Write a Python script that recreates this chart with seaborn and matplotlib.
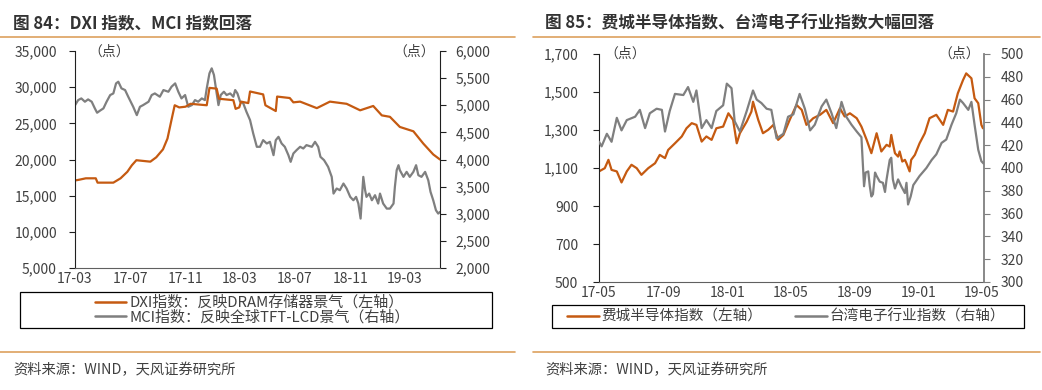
import pandas as pd
import seaborn as sns
import matplotlib.pyplot as plt
import matplotlib.dates as mdates
from matplotlib.ticker import FuncFormatter
from matplotlib.patches import Rectangle
from matplotlib.lines import Line2D

# ---- figure 84: DXI / MCI ----
dxi_dates = ['2017-03-01', '2017-03-10', '2017-03-25', '2017-04-16', '2017-04-20', '2017-05-25',
             '2017-06-10', '2017-06-25', '2017-07-05', '2017-07-15', '2017-08-15', '2017-08-28',
             '2017-09-12', '2017-09-22', '2017-10-02', '2017-10-08', '2017-10-18', '2017-11-01',
             '2017-11-12', '2017-12-18', '2017-12-24', '2018-01-09', '2018-01-14', '2018-02-15',
             '2018-02-20', '2018-02-28', '2018-03-04', '2018-03-20', '2018-03-24', '2018-04-22',
             '2018-04-27', '2018-05-20', '2018-05-23', '2018-06-20', '2018-06-28', '2018-07-13',
             '2018-08-19', '2018-09-17', '2018-10-24', '2018-11-23', '2018-12-22', '2019-01-10',
             '2019-01-28', '2019-02-19', '2019-03-21', '2019-04-12', '2019-05-04', '2019-05-19']
dxi_vals = [17100, 17200, 17400, 17400, 16800, 16800,
            17400, 18300, 19200, 19900, 19700, 20300,
            21400, 22900, 25800, 27500, 27200, 27300,
            27700, 27500, 29900, 29800, 28400, 28200,
            27000, 27200, 28000, 27800, 29400, 29000,
            27500, 26700, 28700, 28500, 27900, 28000,
            27100, 28000, 27700, 26800, 27400, 26100,
            25900, 24500, 23900, 22200, 20700, 20000]

mci_dates = ['2017-03-01', '2017-03-08', '2017-03-15', '2017-03-23', '2017-03-30', '2017-04-07',
             '2017-04-14', '2017-04-19', '2017-04-25', '2017-05-03', '2017-05-10', '2017-05-18',
             '2017-05-25', '2017-05-31', '2017-06-05', '2017-06-12', '2017-06-20', '2017-06-27',
             '2017-07-08', '2017-07-16', '2017-07-23', '2017-07-30', '2017-08-11', '2017-08-18',
             '2017-08-25', '2017-09-05', '2017-09-13', '2017-09-24', '2017-10-01', '2017-10-09',
             '2017-10-16', '2017-10-23', '2017-10-31', '2017-11-07', '2017-11-15', '2017-11-22',
             '2017-11-29', '2017-12-07', '2017-12-14', '2017-12-18', '2017-12-24', '2017-12-29',
             '2018-01-03', '2018-01-09', '2018-01-13', '2018-01-18', '2018-01-25', '2018-01-31',
             '2018-02-08', '2018-02-15', '2018-02-19', '2018-02-24', '2018-03-02', '2018-03-09',
             '2018-03-16', '2018-03-24', '2018-03-31', '2018-04-08', '2018-04-15', '2018-04-22',
             '2018-04-30', '2018-05-07', '2018-05-15', '2018-05-20', '2018-05-26', '2018-06-02',
             '2018-06-09', '2018-06-17', '2018-06-22', '2018-06-28', '2018-07-05', '2018-07-13',
             '2018-07-20', '2018-07-27', '2018-08-08', '2018-08-15', '2018-08-22', '2018-08-27',
             '2018-09-04', '2018-09-13', '2018-09-21', '2018-09-25', '2018-10-02', '2018-10-09',
             '2018-10-17', '2018-10-24', '2018-11-01', '2018-11-08', '2018-11-14', '2018-11-19',
             '2018-11-24', '2018-11-30', '2018-12-04', '2018-12-07', '2018-12-13', '2018-12-19',
             '2018-12-26', '2019-01-02', '2019-01-06', '2019-01-13', '2019-01-21', '2019-01-28',
             '2019-02-05', '2019-02-08', '2019-02-12', '2019-02-16', '2019-02-19', '2019-02-27',
             '2019-03-06', '2019-03-13', '2019-03-21', '2019-03-27', '2019-04-01', '2019-04-08',
             '2019-04-16', '2019-04-23', '2019-04-28', '2019-05-04', '2019-05-10', '2019-05-15',
             '2019-05-19']
mci_vals = [5000, 5095, 5126, 5065, 5108, 5065,
            4942, 4862, 4898, 4942, 5065, 5188,
            5218, 5403, 5434, 5311, 5280, 5157,
            4972, 4818, 4972, 5003, 5065, 5188,
            5218, 5157, 5280, 5249, 5342, 5403,
            5249, 5126, 5188, 4972, 5003, 5095,
            5065, 5126, 5095, 5311, 5588, 5680,
            5557, 5218, 5003, 5188, 5249, 5188,
            5218, 5157, 5280, 5218, 5065, 5034,
            4880, 4726, 4480, 4234, 4234, 4357,
            4295, 4326, 4080, 4357, 4418, 4295,
            4234, 4080, 3957, 4111, 4172, 4234,
            4203, 4265, 4234, 4326, 4234, 4049,
            3988, 3865, 3680, 3372, 3465, 3434,
            3557, 3465, 3311, 3249, 3311, 3188,
            2911, 3680, 3434, 3311, 3372, 3249,
            3342, 3188, 3372, 3188, 3095, 3095,
            3188, 3495, 3803, 3895, 3803, 3680,
            3772, 3680, 3772, 3895, 3711, 3680,
            3772, 3618, 3403, 3249, 3065, 3003,
            3034]

# ---- figure 85: SOX / Taiwan electronics ----
sox_dates = ['2017-05-01', '2017-05-12', '2017-05-19', '2017-05-25', '2017-06-04', '2017-06-13',
             '2017-06-23', '2017-07-02', '2017-07-12', '2017-07-21', '2017-08-03', '2017-08-16',
             '2017-08-25', '2017-09-04', '2017-09-10', '2017-09-23', '2017-10-06', '2017-10-15',
             '2017-10-25', '2017-11-03', '2017-11-13', '2017-11-22', '2017-12-02', '2017-12-11',
             '2017-12-24', '2018-01-03', '2018-01-12', '2018-01-19', '2018-01-25', '2018-02-07',
             '2018-02-16', '2018-02-19', '2018-03-01', '2018-03-10', '2018-03-20', '2018-03-30',
             '2018-04-08', '2018-04-18', '2018-04-30', '2018-05-13', '2018-05-23', '2018-06-01',
             '2018-06-14', '2018-06-27', '2018-07-09', '2018-07-22', '2018-08-04', '2018-08-13',
             '2018-08-23', '2018-09-05', '2018-09-14', '2018-09-24', '2018-10-03', '2018-10-13',
             '2018-10-22', '2018-11-01', '2018-11-07', '2018-11-10', '2018-11-13', '2018-11-17',
             '2018-11-23', '2018-11-26', '2018-12-01', '2018-12-06', '2018-12-09', '2018-12-15',
             '2018-12-18', '2018-12-25', '2019-01-03', '2019-01-13', '2019-01-22', '2019-02-04',
             '2019-02-17', '2019-02-26', '2019-03-08', '2019-03-17', '2019-03-27', '2019-04-02',
             '2019-04-12', '2019-04-18', '2019-04-25', '2019-05-01', '2019-05-04']
sox_vals = [1082, 1099, 1143, 1090, 1082, 1024,
            1082, 1117, 1099, 1064, 1099, 1125,
            1169, 1152, 1195, 1230, 1266, 1309,
            1336, 1327, 1239, 1266, 1248, 1309,
            1318, 1388, 1353, 1230, 1283, 1344,
            1397, 1449, 1353, 1283, 1301, 1327,
            1248, 1274, 1353, 1432, 1406, 1327,
            1362, 1380, 1406, 1336, 1414, 1371,
            1388, 1362, 1318, 1248, 1178, 1283,
            1187, 1222, 1213, 1274, 1230, 1178,
            1160, 1187, 1134, 1143, 1125, 1082,
            1143, 1169, 1230, 1283, 1362, 1380,
            1327, 1406, 1397, 1493, 1563, 1598,
            1572, 1467, 1441, 1327, 1309]

tw_dates = ['2017-05-01', '2017-05-06', '2017-05-16', '2017-05-25', '2017-06-04', '2017-06-13',
            '2017-06-23', '2017-07-09', '2017-07-18', '2017-07-28', '2017-08-06', '2017-08-19',
            '2017-08-29', '2017-09-04', '2017-09-13', '2017-09-23', '2017-10-09', '2017-10-18',
            '2017-10-28', '2017-11-03', '2017-11-13', '2017-11-22', '2017-12-02', '2017-12-11',
            '2017-12-24', '2017-12-31', '2018-01-09', '2018-01-15', '2018-01-25', '2018-02-07',
            '2018-02-19', '2018-02-26', '2018-03-07', '2018-03-17', '2018-03-26', '2018-04-05',
            '2018-04-18', '2018-04-27', '2018-05-07', '2018-05-19', '2018-05-29', '2018-06-08',
            '2018-06-17', '2018-06-30', '2018-07-09', '2018-07-19', '2018-07-28', '2018-08-07',
            '2018-08-16', '2018-08-26', '2018-09-05', '2018-09-14', '2018-09-17', '2018-09-19',
            '2018-09-22', '2018-09-27', '2018-09-30', '2018-10-03', '2018-10-06', '2018-10-10',
            '2018-10-13', '2018-10-19', '2018-10-25', '2018-10-29', '2018-11-01', '2018-11-07',
            '2018-11-10', '2018-11-13', '2018-11-17', '2018-11-23', '2018-11-29', '2018-12-06',
            '2018-12-09', '2018-12-12', '2018-12-17', '2018-12-22', '2019-01-03', '2019-01-16',
            '2019-01-26', '2019-02-04', '2019-02-14', '2019-02-23', '2019-03-05', '2019-03-14',
            '2019-03-21', '2019-03-27', '2019-04-06', '2019-04-12', '2019-04-18', '2019-04-25',
            '2019-05-01', '2019-05-05']
tw_vals = [423, 419, 430, 423, 444, 433,
           442, 445, 451, 435, 448, 452,
           451, 432, 450, 465, 464, 471,
           458, 468, 435, 442, 435, 450,
           455, 474, 470, 441, 432, 450,
           468, 460, 457, 452, 451, 426,
           430, 445, 447, 465, 452, 433,
           438, 454, 460, 448, 435, 458,
           445, 438, 432, 427, 401, 384,
           396, 397, 384, 375, 377, 396,
           393, 388, 387, 379, 390, 407,
           409, 390, 382, 390, 384, 378,
           387, 368, 375, 385, 393, 400,
           407, 412, 422, 425, 438, 448,
           460, 457, 451, 458, 438, 416,
           406, 404]

ORANGE = '#C55A11'
GRAY = '#7F7F7F'
RULE = '#DDA15E'
TXT = '#404040'

sns.set_style('white')
plt.rcParams['font.family'] = ['Noto Sans CJK SC', 'DejaVu Sans']
plt.rcParams['axes.unicode_minus'] = False

W, H = 1042, 390
fig = plt.figure(figsize=(W / 100, H / 100), dpi=100)


def fx(px):
    return px / W


def fy(py):
    return 1 - py / H


comma = FuncFormatter(lambda v, p: f'{v:,.0f}')


def style_axes(ax, ax2, right_color, lpad, rpad):
    for a in (ax, ax2):
        a.spines['top'].set_visible(False)
        a.tick_params(labelsize=10, labelcolor=TXT, length=4, width=0.8)
        a.set_xlabel('')
        a.set_ylabel('')
        a.grid(False)
    ax.spines['right'].set_visible(False)
    ax.spines['left'].set_color('#202020')
    ax.spines['bottom'].set_color('#606060')
    ax2.spines['left'].set_visible(False)
    ax2.spines['bottom'].set_visible(False)
    ax2.spines['right'].set_color(right_color)
    ax2.spines['right'].set_linewidth(1.3 if right_color == GRAY else 0.8)
    ax.tick_params(axis='y', direction='out', color='#202020', pad=lpad)
    ax2.tick_params(axis='y', direction='out', color=right_color, pad=rpad)
    ax.tick_params(axis='x', direction='in', color='#606060', pad=3)
    ax.yaxis.set_major_formatter(comma)
    ax2.yaxis.set_major_formatter(comma)


# ---------- left panel ----------
df_dxi = pd.DataFrame({'date': pd.to_datetime(dxi_dates), 'v': dxi_vals})
df_mci = pd.DataFrame({'date': pd.to_datetime(mci_dates), 'v': mci_vals})

axL = fig.add_axes([fx(75), fy(268), fx(440 - 75), (268 - 51) / H])
axL2 = axL.twinx()
sns.lineplot(data=df_dxi, x='date', y='v', ax=axL, color=ORANGE, lw=1.6)
sns.lineplot(data=df_mci, x='date', y='v', ax=axL2, color=GRAY, lw=1.6)
axL.set_xlim(pd.Timestamp('2017-03-01'), pd.Timestamp('2019-05-19'))
axL.set_ylim(5000, 35000)
axL.set_yticks(range(5000, 35001, 5000))
axL2.set_ylim(2000, 6000)
axL2.set_yticks(range(2000, 6001, 500))
axL.xaxis.set_major_locator(mdates.MonthLocator(bymonth=[3, 7, 11]))
axL.xaxis.set_major_formatter(mdates.DateFormatter('%y-%m'))
style_axes(axL, axL2, '#202020', 9, 7)
axL.set_zorder(axL2.get_zorder() + 1)
axL.patch.set_visible(False)

# ---------- right panel ----------
df_sox = pd.DataFrame({'date': pd.to_datetime(sox_dates), 'v': sox_vals})
df_tw = pd.DataFrame({'date': pd.to_datetime(tw_dates), 'v': tw_vals})

axR = fig.add_axes([fx(599), fy(282), fx(984 - 599), (282 - 54) / H])
axR2 = axR.twinx()
sns.lineplot(data=df_sox, x='date', y='v', ax=axR, color=ORANGE, lw=1.6)
sns.lineplot(data=df_tw, x='date', y='v', ax=axR2, color=GRAY, lw=1.6)
axR.set_xlim(pd.Timestamp('2017-05-01'), pd.Timestamp('2019-05-06'))
axR.set_ylim(500, 1700)
axR.set_yticks(range(500, 1701, 200))
axR2.set_ylim(300, 500)
axR2.set_yticks(range(300, 501, 20))
axR.xaxis.set_major_locator(mdates.MonthLocator(bymonth=[1, 5, 9]))
axR.xaxis.set_major_formatter(mdates.DateFormatter('%y-%m'))
style_axes(axR, axR2, GRAY, 11, 8)
axR2.set_zorder(axR.get_zorder() + 1)

# unit labels
for x, y in [(88, 52), (393, 52), (604, 54), (938, 54)]:
    fig.text(fx(x), fy(y), '（点）', fontsize=10, color=TXT, va='center', ha='left')

# titles, rules, sources
fig.text(fx(13), fy(23), '图 84：DXI 指数、MCI 指数回落', fontsize=12, fontweight='bold',
         color='#333333', va='center')
fig.text(fx(545), fy(23), '图 85：费城半导体指数、台湾电子行业指数大幅回落', fontsize=12,
         fontweight='bold', color='#333333', va='center')
for x0, x1 in [(0, 515), (533, 1040)]:
    for yy in (37, 352):
        fig.add_artist(Line2D([fx(x0), fx(x1)], [fy(yy), fy(yy)], color=RULE, lw=1.2))
fig.text(fx(13), fy(370), '资料来源：WIND，天风证券研究所', fontsize=10.3, color=TXT, va='center')
fig.text(fx(545), fy(370), '资料来源：WIND，天风证券研究所', fontsize=10.3, color=TXT, va='center')

# legends with drawn boxes
hL = [Line2D([], [], color=ORANGE, lw=1.8), Line2D([], [], color=GRAY, lw=1.8)]
fig.legend(hL, ['DXI指数：反映DRAM存储器景气（左轴）', 'MCI指数：反映全球TFT-LCD景气（右轴）'],
           loc='center', bbox_to_anchor=(fx(252), fy(310)), frameon=False, fontsize=10.8,
           handlelength=2.1, handletextpad=0.2, labelspacing=0.0, labelcolor=TXT)
fig.add_artist(Rectangle((fx(20), fy(328)), fx(472), (328 - 292) / H, fill=False,
                         edgecolor='black', lw=0.9))
fig.legend(hL, ['费城半导体指数（左轴）', '台湾电子行业指数（右轴）'],
           loc='center', bbox_to_anchor=(fx(786), fy(316.5)), frameon=False, fontsize=10.5,
           ncol=2, handlelength=2.2, handletextpad=0.2, columnspacing=2.2, labelcolor=TXT)
fig.add_artist(Rectangle((fx(552), fy(328)), fx(472), (328 - 305) / H, fill=False,
                         edgecolor='black', lw=0.9))

fig.savefig('out.png', dpi=100)
